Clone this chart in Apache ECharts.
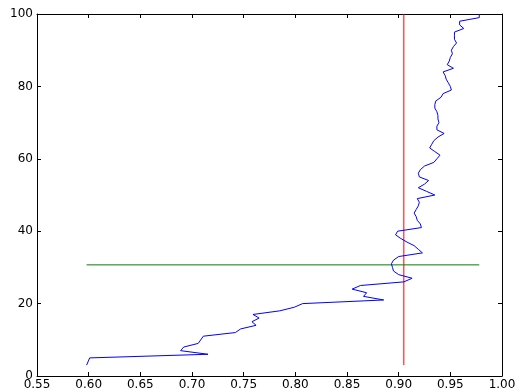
<!DOCTYPE html>
<html>
<head>
<meta charset="utf-8">
<script src="https://cdn.jsdelivr.net/npm/echarts@6/dist/echarts.min.js"></script>
<style>
  html, body { margin: 0; padding: 0; background: #fff; }
  #chart { width: 522px; height: 392px; }
</style>
</head>
<body>
<div id="chart"></div>
<script>
// blue curve: x value for each y position
const curveY = [3, 5, 6, 7, 8, 9, 11, 12, 13, 14, 15, 16, 17, 18, 19, 20,
  21, 22, 23, 24, 25, 26, 27, 28, 29, 30, 31, 32, 33, 34, 35, 36, 37, 38, 39, 40,
  41, 42, 43, 44, 45, 46, 47, 48, 49, 50, 51, 52, 53, 54, 55, 56, 57, 58, 59, 60,
  61, 62, 63, 64, 65, 66, 67, 68, 69, 70, 71, 72, 73, 74, 75, 76, 77, 78, 79, 80,
  81, 82, 83, 84, 85, 86, 87, 88, 89, 90, 91, 92, 93, 94, 95, 96, 97, 98, 99, 100]
const curveX = [0.598, 0.601, 0.7155, 0.689, 0.692, 0.706, 0.711, 0.742, 0.747, 0.762,
  0.758, 0.765, 0.759, 0.785, 0.799, 0.807,
  0.8855, 0.866, 0.869, 0.855, 0.863, 0.905, 0.913, 0.900, 0.895, 0.894, 0.893, 0.895, 0.900, 0.923,
  0.919, 0.915, 0.908, 0.902, 0.897, 0.899,
  0.922, 0.921, 0.918, 0.917, 0.915, 0.917, 0.919, 0.920, 0.918, 0.935,
  0.927, 0.919, 0.925, 0.929, 0.920, 0.919, 0.921, 0.925, 0.934, 0.937,
  0.940, 0.935, 0.930, 0.932, 0.934, 0.938, 0.944, 0.937, 0.937, 0.939,
  0.938, 0.938, 0.937, 0.935, 0.935, 0.936, 0.941, 0.943, 0.951, 0.950,
  0.948, 0.946, 0.945, 0.943, 0.953, 0.947, 0.949, 0.950, 0.952, 0.951,
  0.953, 0.956, 0.954, 0.954, 0.954, 0.963, 0.959, 0.959, 0.978, 0.978]

// red vertical line
const redX = [0.905, 0.905]
const redY = [3, 100]

// green horizontal line
const greenX = [0.598, 0.978]
const greenY = [30.7, 30.7]

const xTicks = { min: 0.55, max: 1.0, interval: 0.05 }
const yTicks = { min: 0, max: 100, interval: 20 }

const zip = (xs, ys) => xs.map((x, i) => [x, ys[i]])

const chart = echarts.init(document.getElementById('chart'), null, { renderer: 'canvas' })

const font = { fontFamily: 'DejaVu Sans', fontSize: 12, color: '#000' }
const line = { lineStyle: { color: '#000', width: 1 } }
const tick = { show: true, inside: true, length: 4, lineStyle: { color: '#000', width: 1 } }

const option = {
  animation: false,
  backgroundColor: '#fff',
  grid: { left: 37, top: 14, right: 20, bottom: 16 },
  xAxis: [
    {
      type: 'value', position: 'bottom', ...xTicks,
      axisLine: { onZero: false, ...line },
      axisTick: tick,
      axisLabel: { ...font, margin: 3, formatter: v => v.toFixed(2) },
      splitLine: { show: false }
    },
    {
      type: 'value', position: 'top', ...xTicks,
      axisLine: { onZero: false, ...line },
      axisTick: tick,
      axisLabel: { show: false },
      splitLine: { show: false }
    }
  ],
  yAxis: [
    {
      type: 'value', position: 'left', ...yTicks,
      axisLine: { show: true, onZero: false, ...line },
      axisTick: tick,
      axisLabel: { ...font, margin: 4 },
      splitLine: { show: false }
    },
    {
      type: 'value', position: 'right', ...yTicks,
      axisLine: { show: true, onZero: false, ...line },
      axisTick: tick,
      axisLabel: { show: false },
      splitLine: { show: false }
    }
  ],
  series: [
    {
      type: 'line', data: zip(curveX, curveY), showSymbol: false,
      lineStyle: { color: '#0000ff', width: 1 }, z: 3
    },
    {
      type: 'line', data: zip(redX, redY), showSymbol: false,
      lineStyle: { color: '#ff0000', width: 1 }, z: 2
    },
    {
      type: 'line', data: zip(greenX, greenY), showSymbol: false,
      lineStyle: { color: '#008000', width: 1 }, z: 2
    }
  ]
}

chart.setOption(option)
</script>
</body>
</html>
